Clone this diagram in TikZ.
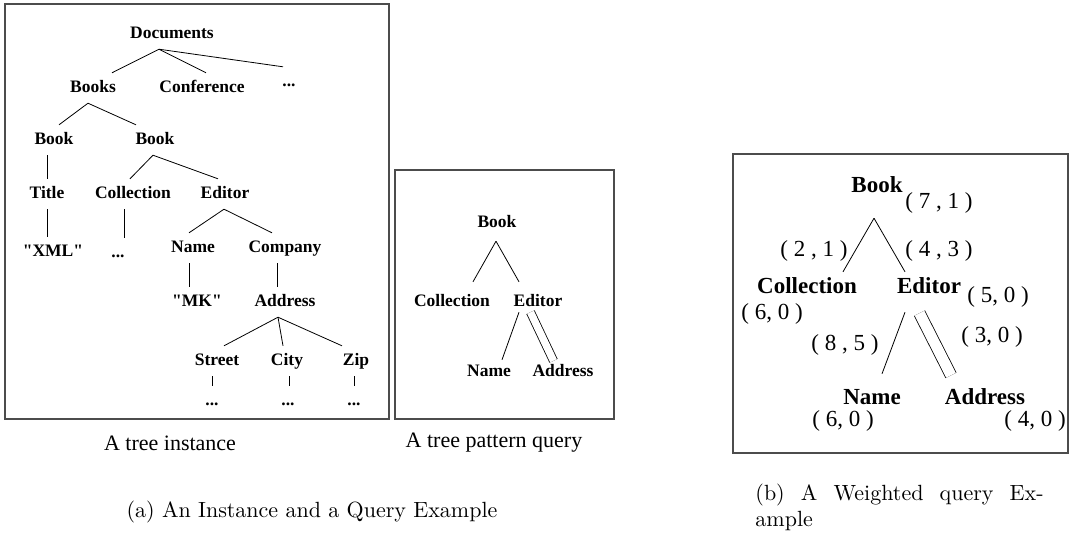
\documentclass[tikz,border=0pt]{standalone}
\usepackage{fontspec}
\newfontfamily\timesfont{Liberation Serif}
\usepackage{tikz}
\usetikzlibrary{calc}
\usetikzlibrary{positioning}

\begin{document}
\begin{tikzpicture}[x=1pt, y=-1pt,
% define styles here
figbox/.style={draw=black!70, line width=1.3pt},
elem/.style={font=\timesfont\bfseries\fontsize{17.5}{20}\selectfont, text height=12pt, text depth=4pt, inner xsep=1pt, inner ysep=7pt},
welem/.style={font=\timesfont\bfseries\fontsize{23}{26}\selectfont, text height=16pt, text depth=5pt, inner xsep=1pt, inner ysep=9.5pt},
weight/.style={font=\timesfont\fontsize{23}{26}\selectfont, inner sep=0pt},
treeline/.style={line width=0.8pt},
descline/.style={line width=0.8pt, double, double distance=#1},
subcap/.style={font=\timesfont\fontsize{22}{25}\selectfont},
figcap/.style={font=\fontsize{10}{11.8}\selectfont, scale=2.2, transform shape}
]
\useasboundingbox (0,0) rectangle (1070,539);

% frames
\draw[figbox] (5,4) rectangle (389,419);
\draw[figbox] (395,170) rectangle (614,419);
\draw[figbox] (733,154) rectangle (1068,453);

% the instance tree
\node[elem] (docs) at (172,34) {Documents};
\node[elem] (books) at (93,88) {Books};
\node[elem] (conf) at (202,88) {Conference};
\node[elem] (docsmore) at (289,82) {...};
\node[elem] (book1) at (54,140) {Book};
\node[elem] (book2) at (155,140) {Book};
\node[elem] (title) at (47,194) {Title};
\node[elem] (coll) at (133,194) {Collection};
\node[elem] (editor) at (225,194) {Editor};
\node[elem] (xml) at (53,252) {"XML"};
\node[elem] (collmore) at (118,253) {...};
\node[elem] (name) at (193,248) {Name};
\node[elem] (company) at (285,248) {Company};
\node[elem] (mk) at (197,302) {"MK"};
\node[elem] (address) at (285,302) {Address};
\node[elem] (street) at (217,361) {Street};
\node[elem] (city) at (287,361) {City};
\node[elem] (zip) at (356,361) {Zip};
\node[elem] (streetmore) at (212,401) {...};
\node[elem] (citymore) at (288,401) {...};
\node[elem] (zipmore) at (354,401) {...};

\draw[treeline] ([xshift=-13pt]docs.south) -- ([xshift=19pt]books.north);
\draw[treeline] ([xshift=-13pt]docs.south) -- ([xshift=4pt]conf.north);
\draw[treeline] ([xshift=-13pt]docs.south) -- ([xshift=-6pt]docsmore.north);
\draw[treeline] ([xshift=-5pt]books.south) -- ([xshift=5pt]book1.north);
\draw[treeline] ([xshift=-5pt]books.south) -- ([xshift=-19pt]book2.north);
\draw[treeline] ([xshift=-7pt]book1.south) -- (title.north);
\draw[treeline] ([xshift=-2pt]book2.south) -- ([xshift=-3pt]coll.north);
\draw[treeline] ([xshift=-2pt]book2.south) -- ([xshift=-7pt]editor.north);
\draw[treeline] (title.south) -- ([xshift=-6pt]xml.north);
\draw[treeline] ([xshift=-9pt]coll.south) -- ([xshift=6pt]collmore.north);
\draw[treeline] ([xshift=-1pt]editor.south) -- ([xshift=-4pt]name.north);
\draw[treeline] ([xshift=-1pt]editor.south) -- ([xshift=-13pt]company.north);
\draw[treeline] ([xshift=-4pt]name.south) -- ([xshift=-8pt]mk.north);
\draw[treeline] ([xshift=-8pt]company.south) -- ([xshift=-8pt]address.north);
\draw[treeline] ([xshift=-7pt]address.south) -- ([xshift=7pt]street.north);
\draw[treeline] ([xshift=-7pt]address.south) -- ([xshift=-4pt]city.north);
\draw[treeline] ([xshift=-7pt]address.south) -- ([xshift=-14pt]zip.north);
\draw[treeline] ([xshift=-5pt]street.south) -- (streetmore.north);
\draw[treeline] ([xshift=2pt]city.south) -- ([xshift=1pt]citymore.north);
\draw[treeline] ([xshift=-2pt]zip.south) -- (zipmore.north);

% the pattern query
\node[elem] (qbook) at (497,223) {Book};
\node[elem] (qcoll) at (452,302) {Collection};
\node[elem] (qeditor) at (538,302) {Editor};
\node[elem] (qname) at (489,372) {Name};
\node[elem] (qaddr) at (563,372) {Address};

\draw[treeline] ([xshift=-1pt,yshift=-3pt]qbook.south) -- ([xshift=21pt,yshift=5pt]qcoll.north);
\draw[treeline] ([xshift=-1pt,yshift=-3pt]qbook.south) -- ([xshift=-19pt,yshift=5pt]qeditor.north);
\draw[treeline] ([xshift=-19pt,yshift=5pt]qeditor.south) -- ([xshift=13pt,yshift=-3pt]qname.north);
\draw[descline=7.4pt] ([xshift=-7.5pt,yshift=5pt]qeditor.south) -- ([xshift=-9.5pt,yshift=-4pt]qaddr.north);

% the weighted query
\node[welem] (wbook) at (877,187) {Book};
\node[welem] (wcoll) at (807,288) {Collection};
\node[welem] (weditor) at (929,288) {Editor};
\node[welem] (wname) at (872,399) {Name};
\node[welem] (waddr) at (985,399) {Address};

\node[weight] (wbookw) at (939,203) {( 7 , 1 )};
\node[weight] (wcollw) at (772,314) {( 6, 0 )};
\node[weight] (weditorw) at (998,297) {( 5, 0 )};
\node[weight] (wnamew) at (843,421) {( 6, 0 )};
\node[weight] (waddrw) at (1035,421) {( 4, 0 )};
\node[weight] (e21) at (814,251) {( 2 , 1 )};
\node[weight] (e43) at (939,251) {( 4 , 3 )};
\node[weight] (e85) at (845,345) {( 8 , 5 )};
\node[weight] (e30) at (992,337) {( 3, 0 )};

\draw[treeline] ([xshift=-3pt,yshift=-11pt]wbook.south) -- ([xshift=36pt,yshift=-4pt]wcoll.north);
\draw[treeline] ([xshift=-3pt,yshift=-11pt]wbook.south) -- ([xshift=-24pt,yshift=-4pt]weditor.north);
\draw[treeline] ([xshift=-24pt,yshift=-4pt]weditor.south) -- ([xshift=10pt,yshift=5pt]wname.north);
\draw[descline=10.7pt] ([xshift=-9.5pt,yshift=-5pt]weditor.south) -- ([xshift=-34pt,yshift=3.5pt]waddr.north);

% captions
\node[subcap] (instcap) at (170,443) {A tree instance};
\node[subcap] (querycap) at (494,443) {A tree pattern query};
\node[figcap] (capa) at (312,512) {(a) An Instance and a Query Example};
\node[figcap, anchor=north west, align=left, inner sep=0pt] (capb) at (755,483.5)
  {\makebox[131pt][s]{(b) A Weighted query Ex-}\\ample};
\end{tikzpicture}
\end{document}
